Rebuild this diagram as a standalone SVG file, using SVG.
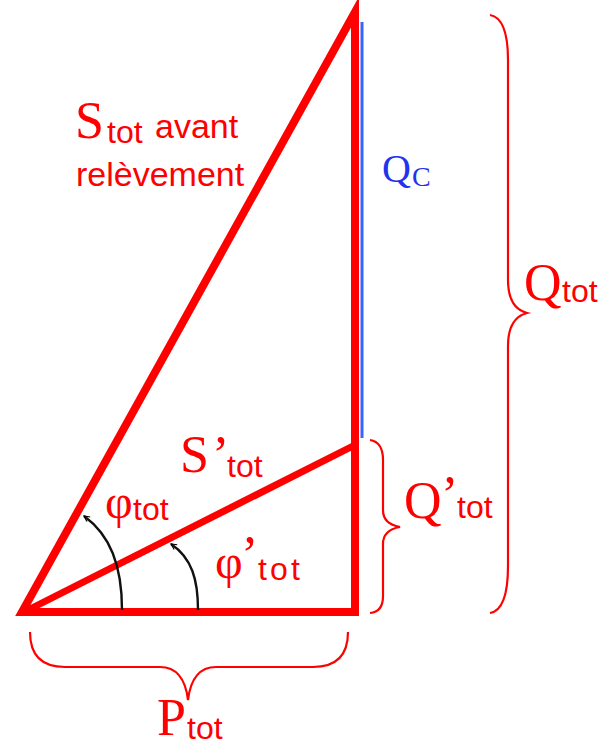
<svg xmlns="http://www.w3.org/2000/svg" width="611" height="747" viewBox="0 0 611 747">
<defs>
<marker id="arr" viewBox="0 0 10 10" refX="9" refY="5" markerWidth="7" markerHeight="7" markerUnits="userSpaceOnUse" orient="auto">
<path d="M1,1 L9,5 L1,9" fill="none" stroke="#000" stroke-width="1.6"/>
</marker>
</defs>
<style>
.red{stroke:#ff0000;fill:none}
.brace{stroke:#ff0000;fill:none;stroke-width:2.2}
.arc{stroke:#111;fill:none;stroke-width:2.4;marker-end:url(#arr)}
.main{font-family:"Liberation Serif",serif;font-size:52px;fill:#ff0000}
.sub{font-family:"Liberation Sans",sans-serif;font-size:32px;fill:#ff0000}
.sans{font-family:"Liberation Sans",sans-serif;font-size:34px;fill:#ff0000}
.phi{font-family:"Liberation Serif",serif;font-size:48px;fill:#ff0000}
.blue{font-family:"Liberation Serif",serif;fill:#2233ee}
</style>
<rect width="611" height="747" fill="#fff"/>
<g id="connectors">
<path id="triangle" class="red" d="M22,612 L355,612 L355,12 Z" stroke-width="8" stroke-miterlimit="10"/>
<line id="s-prime" class="red" x1="24" y1="612" x2="355" y2="445" stroke-width="7"/>
<line id="qc-line" x1="362" y1="22" x2="362" y2="438" stroke="#3366ff" stroke-width="3"/>
<path id="arc-phi" class="arc" d="M122,610 C122,565 110,535 84,516"/>
<path id="arc-phi-prime" class="arc" d="M198,610 C198,580 192,558 171,544"/>
<path id="brace-qtot" class="brace" d="M490,15 Q508,18 508,60 L508,280 Q508,308 527,313 Q508,318 508,346 L508,566 Q508,610 490,613"/>
<path id="brace-qprime" class="brace" d="M370,440 Q383,442 383,460 L383,510 Q383,524 400,527 Q383,530 383,544 L383,596 Q383,612 370,613"/>
<path id="brace-ptot" class="brace" d="M30,632 Q30,667 65,667 L160,667 Q184,667 188,700 Q192,667 216,667 L313,667 Q348,667 348,632"/>
</g>
<g id="label-stot">
<text class="main" x="75" y="138">S</text>
<text class="sub" x="107" y="143" font-size="30">tot</text>
<text class="sans" x="155" y="138">avant</text>
<text class="sans" x="76" y="186">relèvement</text>
</g>
<g id="label-qc">
<text class="blue" x="382" y="182" font-size="40">Q</text>
<text class="blue" x="412" y="186" font-size="28">C</text>
</g>
<g id="label-qtot">
<text class="main" x="524" y="300">Q</text>
<text class="sub" x="562" y="302">tot</text>
</g>
<g id="label-sprime">
<text class="main" x="180" y="472">S</text>
<text class="main" x="212" y="472">’</text>
<text class="sub" x="227" y="477">tot</text>
</g>
<g id="label-qprime">
<text class="main" x="404" y="518">Q</text>
<text class="main" x="441" y="512">’</text>
<text class="sub" x="457" y="518">tot</text>
</g>
<g id="label-phi">
<text class="phi" x="105" y="518">φ</text>
<text class="sub" x="133" y="520">tot</text>
</g>
<g id="label-phiprime">
<text class="phi" x="215" y="578">φ</text>
<text class="main" x="241" y="572" font-size="46">’</text>
<text class="sub" x="258" y="580" textLength="42">tot</text>
</g>
<g id="label-ptot">
<text class="main" x="157" y="735">P</text>
<text class="sub" x="187" y="739">tot</text>
</g>
</svg>
